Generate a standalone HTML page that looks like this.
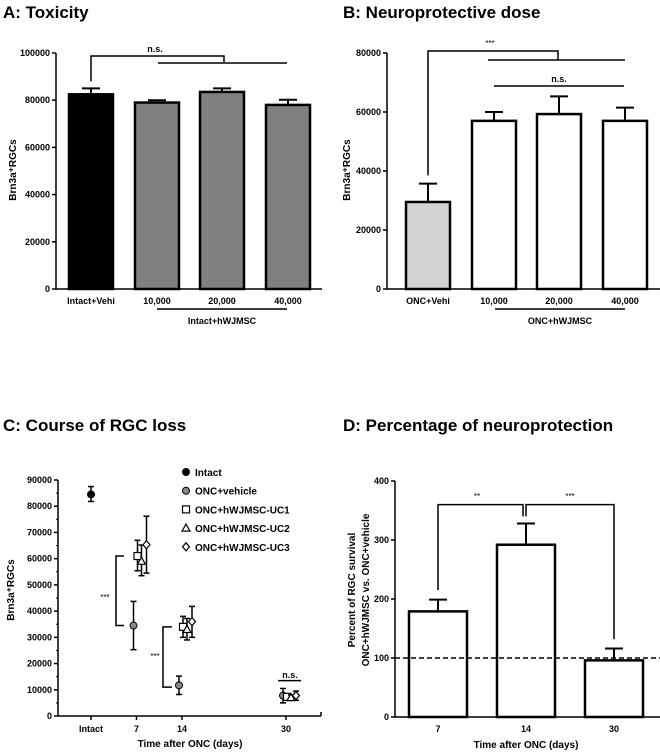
<!DOCTYPE html>
<html><head><meta charset="utf-8"><style>
body{margin:0;background:#fff}
svg{display:block;font-family:"Liberation Sans",Arial,sans-serif}
.t{font-size:17px;font-weight:bold}
.k{font-size:9px;font-weight:bold}
.ax{stroke:#000;stroke-width:1.5;fill:none}
</style></head><body>
<svg id="s" width="660" height="754" viewBox="0 0 660 754">
<text class="t" x="3" y="18">A: Toxicity</text>
<text class="t" x="343" y="18">B: Neuroprotective dose</text>
<text class="t" x="3" y="431">C: Course of RGC loss</text>
<text class="t" x="343" y="431">D: Percentage of neuroprotection</text>
</svg>
<script>
const aCats=["Intact+Vehi","10,000","20,000","40,000"];
const aVals=[82500,79000,83500,78000];
const aErr=[85000,80000,85000,80200];
const aTicks=[0,20000,40000,60000,80000,100000];
const bCats=["ONC+Vehi","10,000","20,000","40,000"];
const bVals=[29500,57000,59300,57000];
const bErr=[35700,60000,65300,61500];
const bTicks=[0,20000,40000,60000,80000];
const cTicks=[0,10000,20000,30000,40000,50000,60000,70000,80000,90000];
const cXTicks=[0,7,14,30];
const cXLabels=["Intact","7","14","30"];
const cIntactDay=[0],cIntactVal=[84500],cIntactLo=[81800],cIntactHi=[87500];
const cVehDay=[7,14,30],cVehVal=[34500,11700,7800],cVehLo=[25300,8200,5000],cVehHi=[43700,15200,10500];
const cUC1Day=[7,14,30],cUC1Val=[61000,34000,7300],cUC1Lo=[55400,30000,6500],cUC1Hi=[67000,38000,8200];
const cUC2Day=[7,14,30],cUC2Val=[59000,33000,7000],cUC2Lo=[53500,29000,6200],cUC2Hi=[65200,37200,8000];
const cUC3Day=[7,14,30],cUC3Val=[65300,36000,7800],cUC3Lo=[54500,30000,6000],cUC3Hi=[76200,41800,9500];
const dCats=["7","14","30"];
const dVals=[179,292,96];
const dErr=[199,328,116];
const dTicks=[0,100,200,300,400];
const dRef=[100];

const S=document.getElementById('s');const NS="http://www.w3.org/2000/svg";
function el(tag,at,name,txt){const e=document.createElementNS(NS,tag);for(const k in at)e.setAttribute(k,at[k]);


if(txt!==undefined)e.textContent=txt;S.appendChild(e);return e;}
function line(x1,y1,x2,y2,name,w,dash){const e=el('line',{x1,y1,x2,y2,stroke:'#000','stroke-width':w||1.5},name);if(dash)e.setAttribute('stroke-dasharray',dash);return e;}
function path(d,name){return el('path',{d,class:'ax'},name);}
function txt(x,y,s,name,anchor,size,bold){return el('text',{x,y,'text-anchor':anchor||'middle','font-size':size||9,'font-weight':bold===false?'normal':'bold'},name,s);}

function yAxis(ax,y0,y1,max,ticks,pre,xEnd){
 const sc=v=>y0-(v/max)*(y0-y1);
 line(ax,y0,ax,y1,pre+'-y-axis');line(ax,y0,xEnd,y0,pre+'-x-axis');
 ticks.forEach(t=>{line(ax-4,sc(t),ax,sc(t),pre+'-y-tick');txt(ax-6,sc(t)+3,String(t),pre+'-y-tick-label','end');});
 return sc;}
function bars(sc,xs,w,vals,errs,fills,pre,cats,ly){
 vals.forEach((v,i)=>{const x=xs[i];
  line(x+w/2,sc(v),x+w/2,sc(errs[i]),pre+'-error-bar',2);line(x+w/2-9,sc(errs[i]),x+w/2+9,sc(errs[i]),pre+'-error-cap',2);
  el('rect',{x,y:sc(v),width:w,height:sc(0)-sc(v),fill:fills[i],stroke:'#000','stroke-width':2.5},pre+'-bar');
  if(cats)txt(x+w/2,ly,cats[i],pre+'-x-tick-label');});}

// Panel A
let sa=yAxis(56,289,53,100000,aTicks,'a',322);
bars(sa,[69,135,200,266],44,aVals,aErr,['#000','#808080','#808080','#808080'],'a',aCats,304);
line(157,309,287,309,'a-group-line');txt(222,324,'Intact+hWJMSC','a-group-label');
el('text',{x:-170,y:16,transform:'rotate(-90)','text-anchor':'middle','font-size':10,'font-weight':'bold'},'a-y-title','Brn3a⁺RGCs');
path(`M91 ${sa(88000)} V56 H224 V62`,'a-sig-bracket');line(158,63,287,63,'a-sig-line');txt(155,52,'n.s.','a-sig-label','middle',9);

// Panel B
let sb=yAxis(387,289,53,80000,bTicks,'b',660);
bars(sb,[406,472,537,603],44,bVals,bErr,['#d3d3d3','#fff','#fff','#fff'],'b',bCats,304);
line(495,309,625,309,'b-group-line');txt(560,324,'ONC+hWJMSC','b-group-label');
el('text',{x:-170,y:350,transform:'rotate(-90)','text-anchor':'middle','font-size':10,'font-weight':'bold'},'b-y-title','Brn3a⁺RGCs');
path(`M428 ${sb(38500)} V51 H558 V60`,'b-sig-bracket');line(488,60,625,60,'b-sig-line');txt(490,46,'***','b-sig-label','middle',8,false);
line(494,86,624,86,'b-ns-line');txt(559,82,'n.s.','b-ns-label');

// Panel C
const cy0=716,cy1=480,cx=d=>91+6.5*d;
const scC=v=>cy0-(v/90000)*(cy0-cy1);
line(58,cy0,58,cy1,'c-y-axis');line(58,cy0,321,cy0,'c-x-axis');line(321,cy0,321,cy0-4,'c-x-axis-end');
cTicks.forEach(t=>{line(54,scC(t),58,scC(t),'c-y-tick');txt(52,scC(t)+3,String(t),'c-y-tick-label','end');});
cTicks.slice(0,-1).forEach(t=>line(56,scC(t+5000),58,scC(t+5000),'c-y-minor-tick',1));
cXTicks.forEach((d,i)=>{line(cx(d),cy0,cx(d),cy0+4,'c-x-tick');txt(cx(d),cy0+16,cXLabels[i],'c-x-tick-label');});
txt(190,747,'Time after ONC (days)','c-x-title','middle',10);
el('text',{x:-590,y:14,transform:'rotate(-90)','text-anchor':'middle','font-size':10,'font-weight':'bold'},'c-y-title','Brn3a⁺RGCs');
function marker(shape,x,y,fill,name){
 if(shape==='c')el('circle',{cx:x,cy:y,r:3.5,fill,stroke:'#000','stroke-width':1},name);
 if(shape==='s')el('rect',{x:x-3.5,y:y-3.5,width:7,height:7,fill:'#fff',stroke:'#000','stroke-width':1.2},name);
 if(shape==='t')el('path',{d:`M${x} ${y-4}L${x+4} ${y+3}L${x-4} ${y+3}Z`,fill:'#fff',stroke:'#000','stroke-width':1.2},name);
 if(shape==='d')el('path',{d:`M${x} ${y-4}L${x+3.5} ${y}L${x} ${y+4}L${x-3.5} ${y}Z`,fill:'#fff',stroke:'#000','stroke-width':1.2},name);}
function series(days,vals,lo,hi,off,shape,fill,name){
 days.forEach((d,i)=>{const x=cx(d)+off;
  line(x,scC(lo[i]),x,scC(hi[i]),name+'-error-bar',1.5);
  line(x-3,scC(lo[i]),x+3,scC(lo[i]),name+'-error-cap',1.5);line(x-3,scC(hi[i]),x+3,scC(hi[i]),name+'-error-cap',1.5);
  marker(shape,x,scC(vals[i]),fill,name+'-point');});}
series(cIntactDay,cIntactVal,cIntactLo,cIntactHi,0,'c','#000','intact');
series(cVehDay,cVehVal,cVehLo,cVehHi,-3,'c','#888','onc-vehicle');
series(cUC1Day,cUC1Val,cUC1Lo,cUC1Hi,1,'s','#fff','uc1');
series(cUC2Day,cUC2Val,cUC2Lo,cUC2Hi,5,'t','#fff','uc2');
series(cUC3Day,cUC3Val,cUC3Lo,cUC3Hi,10,'d','#fff','uc3');
path(`M124 ${scC(61000)} H116 V${scC(34500)} H124`,'c-sig-bracket-7');txt(105,600,'***','c-sig-label-7','middle',8,false);
path(`M172 ${scC(34000)} H163 V${scC(11000)} H172`,'c-sig-bracket-14');txt(155,659,'***','c-sig-label-14','middle',8,false);
line(278,scC(13500),301,scC(13500),'c-ns-line');txt(290,scC(14500),'n.s.','c-ns-label','middle',9);
const leg=[['c','#000','Intact'],['c','#888','ONC+vehicle'],['s','#fff','ONC+hWJMSC-UC1'],['t','#fff','ONC+hWJMSC-UC2'],['d','#fff','ONC+hWJMSC-UC3']];
leg.forEach((l,i)=>{const y=472+i*18.7;marker(l[0],186,y,l[1],'legend-marker');txt(195,y+4,l[2],'legend-entry','start',10);});

// Panel D
let sd=yAxis(395,717,481,400,dTicks,'d',660);
bars(sd,[409,497,585],58,dVals,dErr,['#fff','#fff','#fff'],'d',dCats,732);
line(395,sd(dRef[0]),660,sd(dRef[0]),'d-reference-line',1.5,'5,3');
txt(526,748,'Time after ONC (days)','d-x-title','middle',10);
el('text',{x:-590,y:355,transform:'rotate(-90)','text-anchor':'middle','font-size':10,'font-weight':'bold'},'d-y-title-1','Percent of RGC survival');
el('text',{x:-590,y:369,transform:'rotate(-90)','text-anchor':'middle','font-size':10,'font-weight':'bold'},'d-y-title-2','ONC+hWJMSC  vs.  ONC+vehicle');
path(`M438 ${sd(215)} V${sd(360)} H523 V${sd(340)}`,'d-sig-bracket-1');txt(477,499,'**','d-sig-label-1','middle',8,false);
path(`M526 ${sd(340)} V${sd(360)} H614 V${sd(132)}`,'d-sig-bracket-2');txt(570,499,'***','d-sig-label-2','middle',8,false);
</script>
</body></html>
